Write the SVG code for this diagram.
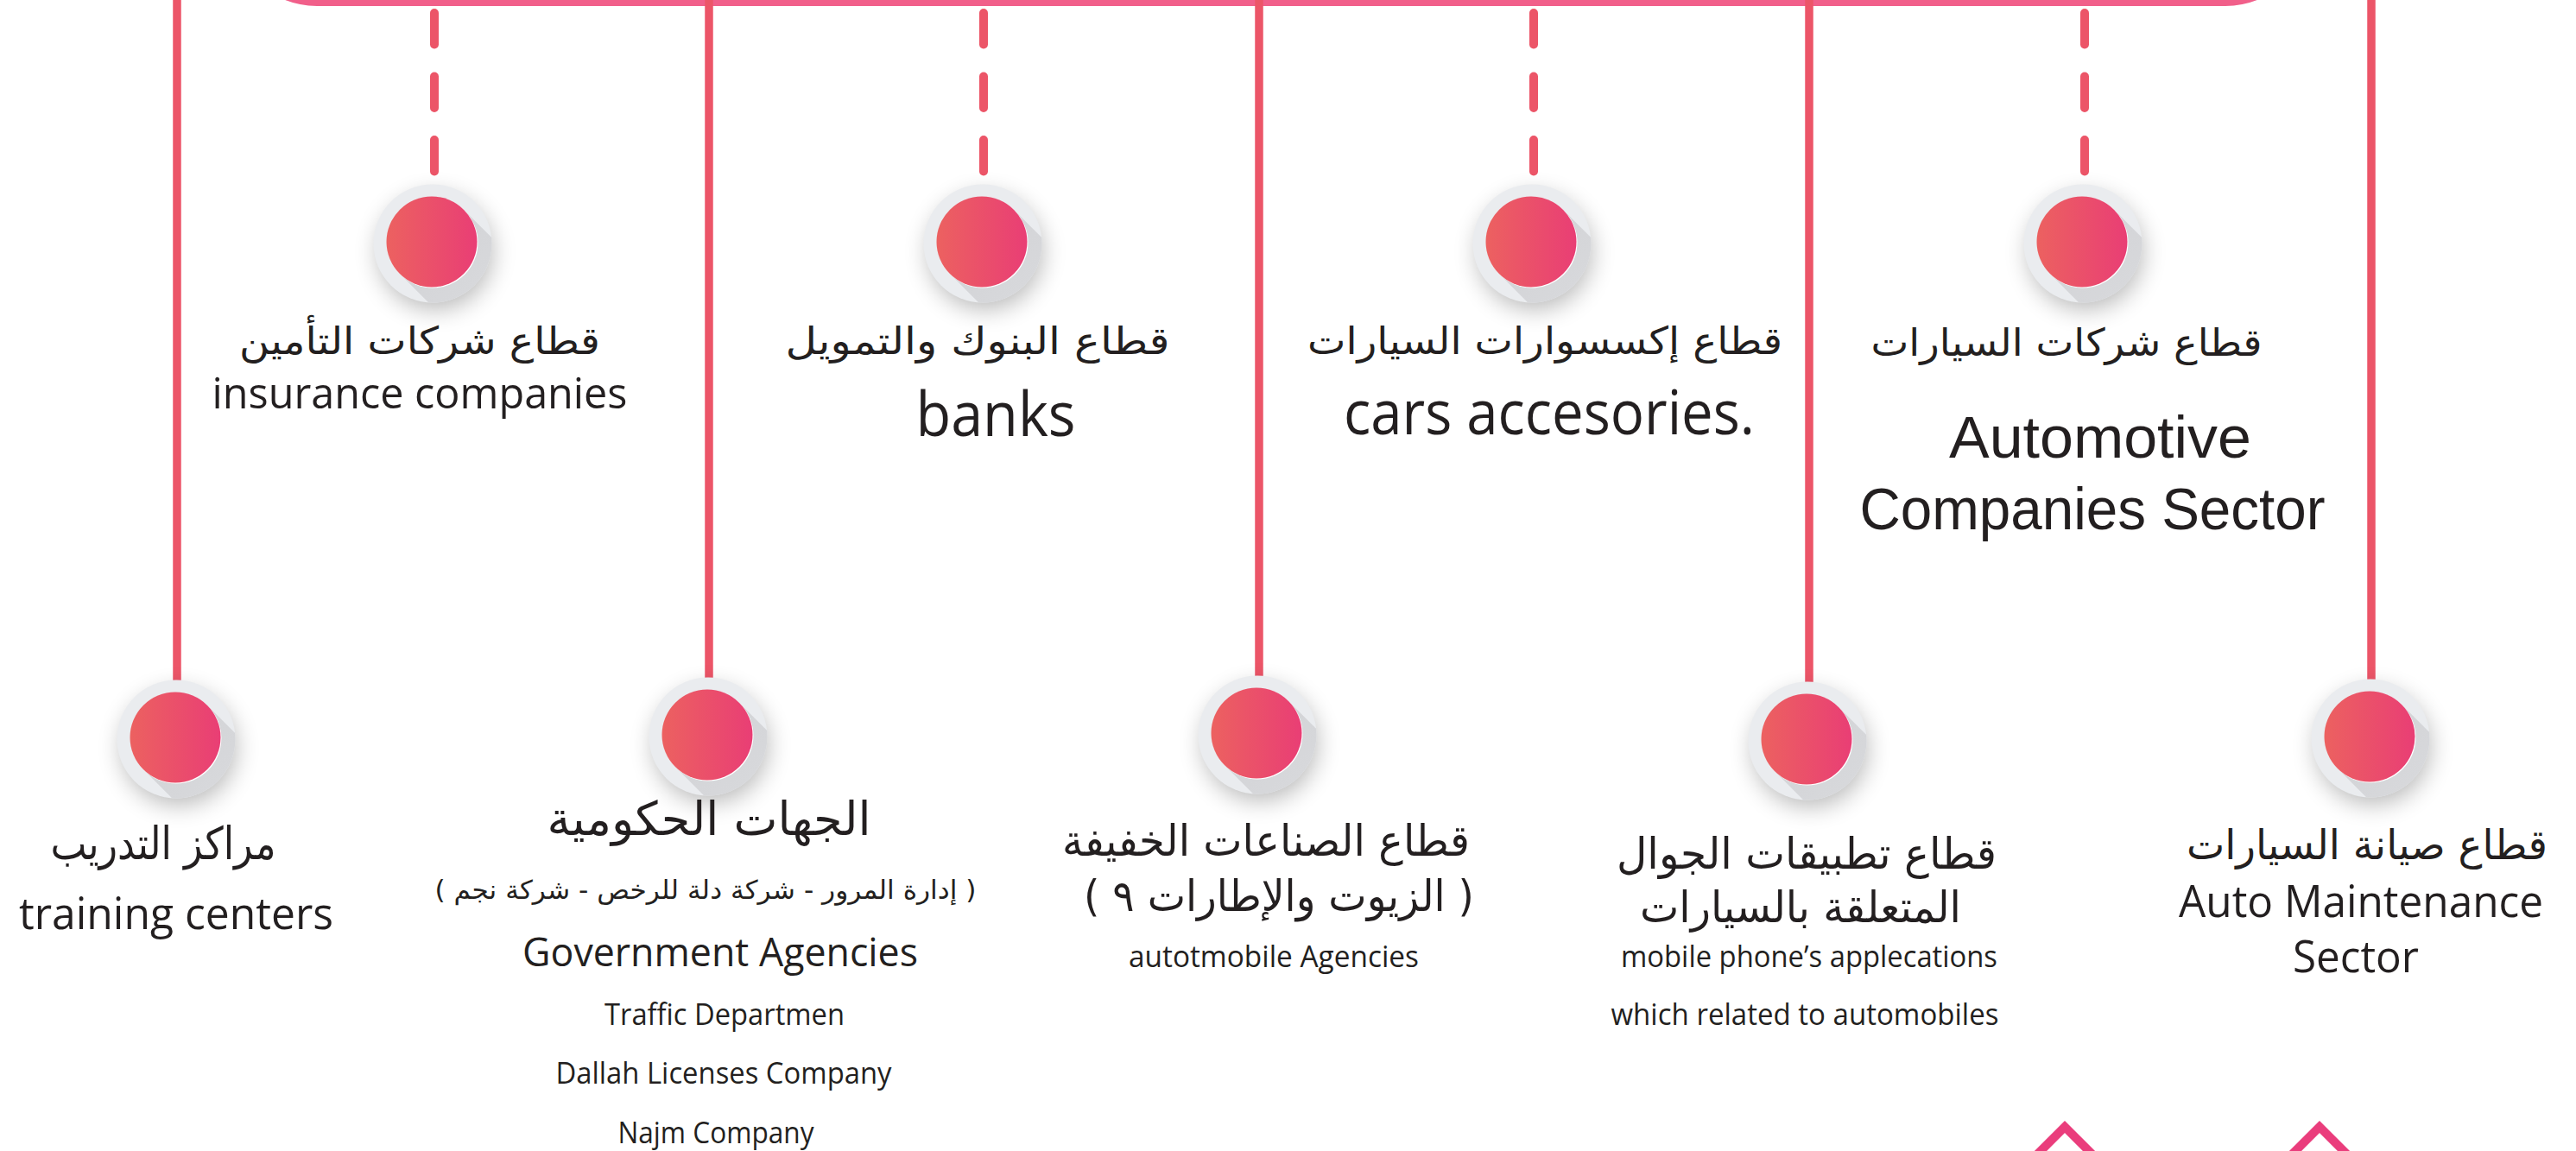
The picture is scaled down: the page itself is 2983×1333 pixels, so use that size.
<svg xmlns="http://www.w3.org/2000/svg" xmlns:xlink="http://www.w3.org/1999/xlink" width="2983" height="1333" viewBox="0 0 2983 1333">
<style>
.ar{font-family:'DejaVu Sans','Noto Sans',sans-serif;fill:#231f20;text-anchor:middle;direction:rtl}
.en{font-family:'Open Sans','Liberation Sans',sans-serif;fill:#231f20;text-anchor:middle}
.en2{font-family:'Liberation Sans','Open Sans',sans-serif;fill:#231f20;text-anchor:middle}
.solid{stroke:#ec5568;stroke-width:9.5;fill:none}
.dash{stroke:#ec5568;stroke-width:10;fill:none;stroke-linecap:round;stroke-dasharray:36.5 37}
.chev{stroke:#ea3d7c;stroke-width:10;fill:none}
</style>
<defs>
<linearGradient id="pinkGrad" x1="0" y1="0" x2="1" y2="0"><stop offset="0" stop-color="#ec6160"/><stop offset="1" stop-color="#e93e75"/></linearGradient>
<linearGradient id="longShadow" x1="0" y1="0" x2="1" y2="1"><stop offset="0" stop-color="#d0d1d4"/><stop offset="1" stop-color="#dedfe2"/></linearGradient>
<clipPath id="ringClip"><circle r="68.5"/></clipPath>
<filter id="soft" x="-1" y="-1" width="3" height="3"><feGaussianBlur stdDeviation="14"/></filter>
<g id="dot">
<circle cx="3" cy="10" r="66" fill="#000" opacity="0.28" filter="url(#soft)"/>
<circle r="68.5" fill="#eaecef"/>
<polygon points="36.1,-39.1 -38.1,35.1 61.9,135.1 136.1,60.9" fill="url(#longShadow)" clip-path="url(#ringClip)"/>
<circle cx="0" cy="-1" r="52.5" fill="#fff"/>
<circle cx="-1" cy="-2" r="52.5" fill="url(#pinkGrad)"/>
</g>
</defs>
<rect width="2983" height="1333" fill="#fff"/>
<rect id="topbar" x="267" y="-200" width="2410" height="207" rx="100" fill="#f15f8a"/>
<g id="connectors">
<line class="solid" x1="205" y1="0" x2="205" y2="800"/>
<line class="solid" x1="821" y1="0" x2="821" y2="800"/>
<line class="solid" x1="1458" y1="0" x2="1458" y2="800"/>
<line class="solid" x1="2095" y1="0" x2="2095" y2="800"/>
<line class="solid" x1="2746" y1="0" x2="2746" y2="800"/>
<line class="dash" x1="503" y1="15" x2="503" y2="200"/>
<line class="dash" x1="1139" y1="15" x2="1139" y2="200"/>
<line class="dash" x1="1776" y1="15" x2="1776" y2="200"/>
<line class="dash" x1="2414" y1="15" x2="2414" y2="200"/>
</g>
<g id="node-insurance">
<use xlink:href="#dot" x="501" y="282"/>
<text class="ar" x="486" y="410" font-size="44" textLength="418" lengthAdjust="spacingAndGlyphs">قطاع شركات التأمين</text>
<text class="en" x="486" y="473" font-size="50" textLength="481" lengthAdjust="spacingAndGlyphs">insurance companies</text>
</g>
<g id="node-banks">
<use xlink:href="#dot" x="1138" y="282"/>
<text class="ar" x="1132" y="410" font-size="44" textLength="445" lengthAdjust="spacingAndGlyphs">قطاع البنوك والتمويل</text>
<text class="en" x="1153" y="505" font-size="72" textLength="185" lengthAdjust="spacingAndGlyphs">banks</text>
</g>
<g id="node-accessories">
<use xlink:href="#dot" x="1774" y="282"/>
<text class="ar" x="1789" y="410" font-size="44" textLength="550" lengthAdjust="spacingAndGlyphs">قطاع إكسسوارات السيارات</text>
<text class="en" x="1794" y="503" font-size="72" textLength="476" lengthAdjust="spacingAndGlyphs">cars accesories.</text>
</g>
<g id="node-automotive">
<use xlink:href="#dot" x="2412" y="282"/>
<text class="ar" x="2393" y="412" font-size="44" textLength="453" lengthAdjust="spacingAndGlyphs">قطاع شركات السيارات</text>
<text class="en2" x="2432" y="530" font-size="68" textLength="350" lengthAdjust="spacingAndGlyphs">Automotive</text>
<text class="en2" x="2423" y="613" font-size="68" textLength="539" lengthAdjust="spacingAndGlyphs">Companies Sector</text>
</g>
<g id="node-training">
<use xlink:href="#dot" x="204" y="856"/>
<text class="ar" x="189" y="995" font-size="52" textLength="261" lengthAdjust="spacingAndGlyphs">مراكز التدريب</text>
<text class="en" x="204" y="1076" font-size="52" textLength="364" lengthAdjust="spacingAndGlyphs">training centers</text>
</g>
<g id="node-government">
<use xlink:href="#dot" x="820" y="853"/>
<text class="ar" x="821" y="967" font-size="54" textLength="375" lengthAdjust="spacingAndGlyphs">الجهات الحكومية</text>
<text class="ar" x="817" y="1041" font-size="30" textLength="627" lengthAdjust="spacingAndGlyphs">( إدارة المرور - شركة دلة للرخص - شركة نجم )</text>
<text class="en" x="834" y="1119" font-size="45" textLength="458" lengthAdjust="spacingAndGlyphs">Government Agencies</text>
<text class="en" x="839" y="1187" font-size="34" textLength="278" lengthAdjust="spacingAndGlyphs">Traffic Departmen</text>
<text class="en" x="838" y="1255" font-size="34" textLength="389" lengthAdjust="spacingAndGlyphs">Dallah Licenses Company</text>
<text class="en" x="829" y="1324" font-size="34" textLength="227" lengthAdjust="spacingAndGlyphs">Najm Company</text>
</g>
<g id="node-light-industry">
<use xlink:href="#dot" x="1456" y="851"/>
<text class="ar" x="1466" y="991" font-size="50" textLength="472" lengthAdjust="spacingAndGlyphs">قطاع الصناعات الخفيفة</text>
<text class="ar" x="1481" y="1055" font-size="50" textLength="452" lengthAdjust="spacingAndGlyphs">( الزيوت والإطارات ٩ )</text>
<text class="en" x="1475" y="1120" font-size="34" textLength="336" lengthAdjust="spacingAndGlyphs">autotmobile Agencies</text>
</g>
<g id="node-mobile-apps">
<use xlink:href="#dot" x="2093" y="858"/>
<text class="ar" x="2092" y="1006" font-size="50" textLength="440" lengthAdjust="spacingAndGlyphs">قطاع تطبيقات الجوال</text>
<text class="ar" x="2085" y="1068" font-size="50" textLength="372" lengthAdjust="spacingAndGlyphs">المتعلقة بالسيارات</text>
<text class="en" x="2095" y="1120" font-size="34" textLength="436" lengthAdjust="spacingAndGlyphs">mobile phone’s applecations</text>
<text class="en" x="2090" y="1187" font-size="34" textLength="449" lengthAdjust="spacingAndGlyphs">which related to automobiles</text>
</g>
<g id="node-maintenance">
<use xlink:href="#dot" x="2745" y="855"/>
<text class="ar" x="2741" y="995" font-size="48" textLength="418" lengthAdjust="spacingAndGlyphs">قطاع صيانة السيارات</text>
<text class="en" x="2734" y="1062" font-size="52" textLength="422" lengthAdjust="spacingAndGlyphs">Auto Maintenance</text>
<text class="en" x="2728" y="1126" font-size="52" textLength="146" lengthAdjust="spacingAndGlyphs">Sector</text>
</g>
<g id="chevrons">
<path class="chev" d="M2336,1360 L2391,1305 L2446,1360"/>
<path class="chev" d="M2631,1360 L2686,1305 L2741,1360"/>
</g>
</svg>
